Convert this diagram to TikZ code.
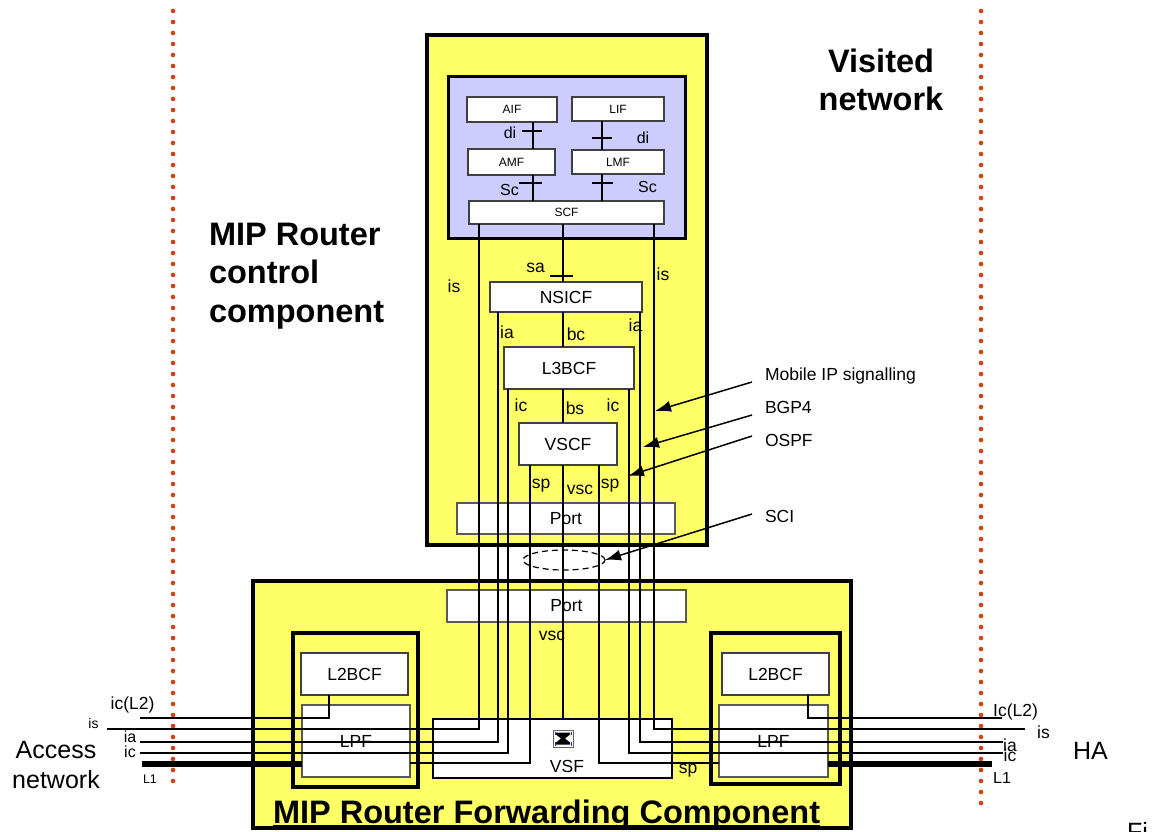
\documentclass[tikz,border=0pt]{standalone}
\usepackage{fontspec}
\setmainfont{Liberation Sans}
\usetikzlibrary{arrows.meta,calc,shapes.geometric}

\definecolor{panelyellow}{RGB}{255,255,102}
\definecolor{ctrllilac}{RGB}{204,204,255}
\definecolor{bounddot}{RGB}{210,65,20}
\definecolor{iconblue}{RGB}{40,40,200}

\newcommand\pxfont[1]{\fontsize{#1}{#1}\selectfont}

\begin{document}
\begin{tikzpicture}[x=1pt,y=-1pt,
  every node/.style={inner sep=0pt, outer sep=0pt},
  fnbox/.style={draw=black!75, fill=white, line width=1.2pt, font=\pxfont{17.5}},
  tinybox/.style={fnbox, font=\pxfont{12}},
  sig/.style={line width=1.2pt},
  lbl/.style={font=\pxfont{17.5}},
  smalllbl/.style={font=\pxfont{16}},
  heavy/.style={draw, line width=3.5pt},
  frame/.style={draw, line width=4pt},
  arr/.style={line width=1.5pt, -{Latex[length=16pt,width=11pt]}},
  boundary/.style={draw=bounddot, line width=4.6pt, line cap=round, dash pattern=on 0pt off 11pt},
  title/.style={font=\pxfont{32.5}\bfseries},
  l1line/.style={line width=5.5pt},
]
\useasboundingbox (0,0) rectangle (1152,831);
\fill[white] (0,0) rectangle (1152,831);

% domain boundaries
\draw[boundary] (173,11) -- (173,786);
\draw[boundary] (981,11) -- (981,808);

% ---------- control component ----------
\node[heavy, fill=panelyellow, minimum width=280pt, minimum height=510pt] (ctrl) at (567,290) {};
\node[draw, line width=3.8pt, fill=ctrllilac, minimum width=237pt, minimum height=162pt] (core) at (567,157.5) {};

\node[tinybox, minimum width=90pt, minimum height=25pt] (AIF) at (512,109.5) {AIF};
\node[tinybox, minimum width=92pt, minimum height=24pt] (LIF) at (618,109) {LIF};
\node[tinybox, minimum width=87pt, minimum height=26pt] (AMF) at (511.5,162) {AMF};
\node[tinybox, minimum width=92pt, minimum height=24pt] (LMF) at (618,162) {LMF};
\node[tinybox, minimum width=195pt, minimum height=23pt] (SCF) at (566.5,212.5) {SCF};

\node[fnbox, minimum width=152pt, minimum height=30pt] (NSICF) at (566,297) {NSICF};
\node[fnbox, minimum width=130pt, minimum height=42pt] (L3BCF) at (569,368) {L3BCF};
\node[fnbox, minimum width=98pt, minimum height=42pt] (VSCF) at (568,444) {VSCF};
\node[fnbox, draw=black!65, minimum width=218pt, minimum height=31pt] (portC) at (566,518.5) {Port};

% ---------- forwarding component ----------
\node[heavy, fill=panelyellow, minimum width=598pt, minimum height=247pt] (fwd) at (552,704.5) {};
\node[fnbox, draw=black!65, minimum width=239pt, minimum height=32pt] (portF) at (566.5,606) {Port};

\node[frame, minimum width=125pt, minimum height=154pt] (frameL) at (355.5,710) {};
\node[frame, minimum width=129pt, minimum height=151pt] (frameR) at (775.5,708.5) {};

\node[fnbox, minimum width=107pt, minimum height=42pt] (L2BCFl) at (354.5,674) {L2BCF};
\node[fnbox, draw=black!65, minimum width=108pt, minimum height=72pt] (LPFl) at (356,741) {LPF};
\node[fnbox, minimum width=107pt, minimum height=42pt] (L2BCFr) at (775.5,674) {L2BCF};
\node[fnbox, draw=black!65, minimum width=109pt, minimum height=72pt] (LPFr) at (773.5,741) {LPF};

\node[fnbox, draw=black, minimum width=239pt, minimum height=59pt] (VSF) at (552.5,748.5) {};
\node[lbl] (vsfText) at (567,766) {VSF};

% switch symbol inside VSF
\node[draw=black!60, fill=white, line width=0.8pt, minimum width=20pt, minimum height=17pt] (xsw) at (563,738.5) {};
\fill[black] (556,732.5) -- (570,732.5) -- (570,734.5) -- (565,738.5) -- (570,742.5)
  -- (570,744.5) -- (556,744.5) -- (556,742.5) -- (561,738.5) -- (556,734.5) -- cycle;
\draw[iconblue, line width=1pt] (555,731.5) -- (555,735) (555,742) -- (555,745.5)
  (571,731.5) -- (571,735) (571,742) -- (571,745.5);

% SCI interface
\node[ellipse, draw, dashed, dash pattern=on 6pt off 4pt, line width=1.2pt,
      minimum width=82pt, minimum height=20pt] (sci) at (564,560) {};

% ---------- signal columns and end points ----------
\coordinate (xIsL) at (479,0);
\coordinate (xIaL) at (498,0);
\coordinate (xIcL) at (508,0);
\coordinate (xSpL) at (530,0);
\coordinate (xMid) at (563,0);
\coordinate (xSpR) at (599,0);
\coordinate (xIcR) at (629,0);
\coordinate (xIaR) at (640,0);
\coordinate (xIsR) at (654,0);
\coordinate (xDiL) at (533,0);
\coordinate (xDiR) at (602,0);
\coordinate (xL2L) at (329,0);
\coordinate (xL2R) at (808,0);

\coordinate (isWest) at (107,729);
\coordinate (isEast) at (1025,729);
\coordinate (iaWest) at (140,742);
\coordinate (iaEast) at (1003,742);
\coordinate (icWest) at (140,753);
\coordinate (icEast) at (1003,753);
\coordinate (icLtwoWest) at (140,718);
\coordinate (icLtwoEast) at (1002,718);
\coordinate (loneWest) at (142,764);
\coordinate (loneEast) at (992,764);

% internal reference points
\draw[sig] (AIF.south -| xDiL) -- (AMF.north -| xDiL);
\draw[sig] (AMF.south -| xDiL) -- (SCF.north -| xDiL);
\draw[sig] (LIF.south -| xDiR) -- (LMF.north -| xDiR);
\draw[sig] (LMF.south -| xDiR) -- (SCF.north -| xDiR);
\draw[sig] (522,131) -- (542,131);
\draw[sig] (592,138) -- (612,138);
\draw[sig] (519,183) -- (542,183);
\draw[sig] (592,183) -- (613,183);

% central chain
\draw[sig] (SCF.south -| xMid) -- (NSICF.north -| xMid);
\draw[sig] (550,276) -- (573,276);
\draw[sig] (NSICF.south -| xMid) -- (L3BCF.north -| xMid);
\draw[sig] (L3BCF.south -| xMid) -- (VSCF.north -| xMid);
\draw[sig] (VSCF.south -| xMid) -- (VSF.north -| xMid);

% external interfaces
\draw[sig] (SCF.south -| xIsL) |- (isWest);
\draw[sig] (SCF.south -| xIsR) |- (isEast);
\draw[sig] (NSICF.south -| xIaL) |- (iaWest);
\draw[sig] (NSICF.south -| xIaR) |- (iaEast);
\draw[sig] (L3BCF.south -| xIcL) |- (icWest);
\draw[sig] (L3BCF.south -| xIcR) |- (icEast);
\draw[sig] (VSCF.south -| xSpL) |- ($(LPFl.south east)+(0,-14)$);
\draw[sig] (VSCF.south -| xSpR) |- ($(LPFr.south west)+(0,-14)$);
\draw[sig] (L2BCFl.south -| xL2L) |- (icLtwoWest);
\draw[sig] (L2BCFr.south -| xL2R) |- (icLtwoEast);
\draw[l1line] (loneWest) -- ($(LPFl.south west)+(0,-13)$);
\draw[l1line] ($(LPFr.south east)+(0,-13)$) -- (loneEast);

% ---------- reference point labels ----------
\node[smalllbl] (diA) at (510,133) {di};
\node[smalllbl] (diB) at (643,137.5) {di};
\node[smalllbl] (scA) at (509.5,190) {Sc};
\node[smalllbl] (scB) at (647.5,187) {Sc};
\node[lbl] (saL) at (535.5,268) {sa};
\node[lbl] (isA) at (454,286) {is};
\node[lbl] (isB) at (663,274) {is};
\node[lbl] (iaA) at (507,332) {ia};
\node[lbl] (bcL) at (576,334) {bc};
\node[lbl] (iaB) at (635.5,325) {ia};
\node[lbl] (icA) at (521,405) {ic};
\node[lbl] (bsL) at (575,408) {bs};
\node[lbl] (icB) at (613,405) {ic};
\node[lbl] (spA) at (541,486) {sp};
\node[lbl] (vscA) at (580,490) {vsc};
\node[lbl] (spB) at (610,486) {sp};
\node[lbl] (vscB) at (552,635.5) {vsc};
\node[lbl] (spC) at (688,771) {sp};

% access side labels
\node[lbl] (acIcL) at (132.5,705) {ic(L2)};
\node[font=\pxfont{14}] (acIs) at (93.5,723) {is};
\node[smalllbl] (acIa) at (130,737) {ia};
\node[smalllbl] (acIc) at (130,752) {ic};
\node[font=\pxfont{12.5}] (acL1) at (150,779.5) {L1};
\node[font=\pxfont{25}, anchor=base] (acc1) at (56,758) {Access};
\node[font=\pxfont{25}, anchor=base] (acc2) at (56,788) {network};

% home agent side labels
\node[lbl] (haIcL) at (1015.5,711.5) {Ic(L2)};
\node[lbl] (haIs) at (1043.5,732) {is};
\node[lbl] (haIa) at (1010,745.5) {ia};
\node[lbl] (haIc) at (1010,755) {ic};
\node[smalllbl] (haL1) at (1002,778) {L1};
\node[font=\pxfont{25}] (haT) at (1090.5,751) {HA};
\node[font=\pxfont{25}, anchor=north west] (figT) at (1127,822) {Fi};

% ---------- titles ----------
\node[title, anchor=base west] (ctlT1) at (209,245) {MIP Router};
\node[title, anchor=base west] (ctlT2) at (209,283.5) {control};
\node[title, anchor=base west] (ctlT3) at (209,322) {component};
\node[title, anchor=base] (visT1) at (881,72) {Visited};
\node[title, anchor=base] (visT2) at (881,110) {network};
\node[title, anchor=base west] (fwdTitle) at (273,823) {MIP Router Forwarding Component};
\draw[line width=2.3pt] ($(fwdTitle.base west)+(0,3)$) -- ($(fwdTitle.base east)+(0,3)$);

% ---------- protocol call-outs ----------
\node[lbl, anchor=west] (mipL) at (765,376) {Mobile IP signalling};
\node[lbl, anchor=west] (bgpL) at (765,407) {BGP4};
\node[lbl, anchor=west] (ospfL) at (765,440) {OSPF};
\node[lbl, anchor=west] (sciL) at (765,516) {SCI};

\coordinate (mipFrom) at (752,382);
\coordinate (bgpFrom) at (752,415);
\coordinate (ospfFrom) at (752,436);
\coordinate (sciFrom) at (752,514);
\coordinate (mipTo) at (655,411);
\coordinate (bgpTo) at (643,447);
\coordinate (ospfTo) at (628,476);

\draw[arr] (mipFrom) -- (mipTo);
\draw[arr] (bgpFrom) -- (bgpTo);
\draw[arr] (ospfFrom) -- (ospfTo);
\draw[arr] (sciFrom) -- (sci.east);
\end{tikzpicture}
\end{document}
